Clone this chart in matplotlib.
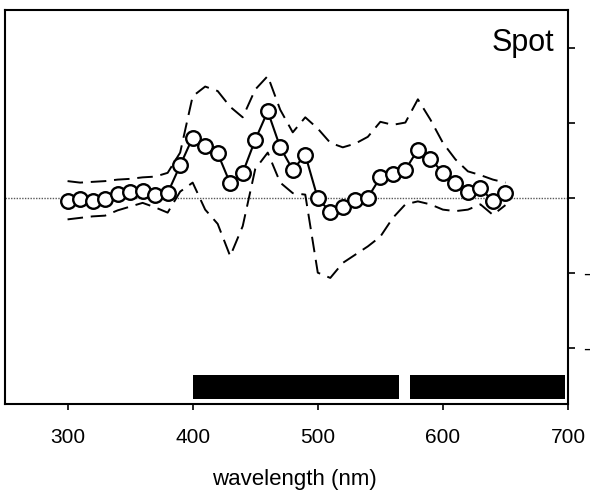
import matplotlib
matplotlib.use("Agg")
import matplotlib.pyplot as plt

plt.rcParams['font.family'] = ['Liberation Sans', 'DejaVu Sans']

wavelength = [300, 310, 320, 330, 340, 350, 360, 370, 380, 390,
              400, 410, 420, 430, 440, 450, 460, 470, 480, 490,
              500, 510, 520, 530, 540, 550, 560, 570, 580, 590,
              600, 610, 620, 630, 640, 650]
mean = [-0.04, -0.02, -0.05, -0.02, 0.05, 0.07, 0.09, 0.03, 0.06, 0.43,
        0.80, 0.69, 0.59, 0.19, 0.33, 0.77, 1.15, 0.67, 0.37, 0.57,
        -0.01, -0.19, -0.12, -0.03, 0.00, 0.27, 0.31, 0.37, 0.64, 0.52,
        0.33, 0.19, 0.07, 0.13, -0.05, 0.06]
upper = [0.22, 0.20, 0.21, 0.22, 0.24, 0.25, 0.27, 0.28, 0.33, 0.60,
         1.35, 1.48, 1.42, 1.21, 1.07, 1.44, 1.62, 1.17, 0.87, 1.07,
         0.92, 0.73, 0.67, 0.72, 0.81, 1.01, 0.97, 1.00, 1.31, 1.04,
         0.73, 0.51, 0.35, 0.30, 0.24, 0.20]
lower = [-0.29, -0.27, -0.25, -0.24, -0.17, -0.12, -0.07, -0.13, -0.20, 0.08,
         0.20, -0.16, -0.35, -0.78, -0.38, 0.38, 0.60, 0.20, 0.06, 0.04,
         -1.00, -1.07, -0.87, -0.76, -0.65, -0.52, -0.27, -0.09, -0.05, -0.09,
         -0.16, -0.18, -0.16, -0.09, -0.23, -0.10]

band_start = [400, 574]
band_end = [565, 698]
band_bottom = -2.68
band_top = -2.36

x_ticks = [300, 400, 500, 600, 700]
y_ticks = [-2, -1, 0, 1, 2]
y_ticklabels = ['-', '-', '', '', '']

fig = plt.figure(figsize=(5.9, 4.92), dpi=100)
ax = fig.add_axes([5/590, 1-404/492, 563/590, 394/492])

ax.axhline(0, color='0.35', lw=1.0, ls=(0, (1, 1)), zorder=1)
ax.plot(wavelength, upper, color='black', lw=1.4, ls=(0, (8, 4)), zorder=2)
ax.plot(wavelength, lower, color='black', lw=1.4, ls=(0, (8, 4)), zorder=2)
ax.plot(wavelength, mean, color='black', lw=1.5, marker='o', ms=10.5,
        mfc='white', mec='black', mew=1.7, zorder=3)

for s, e in zip(band_start, band_end):
    ax.fill_between([s, e], band_bottom, band_top, color='black', lw=0, zorder=2)

ax.set_xlim(250, 700)
ax.set_ylim(-2.75, 2.5)

ax.set_xticks(x_ticks)
ax.tick_params(axis='x', direction='out', length=4, width=1.2, pad=13, labelsize=15)
ax.yaxis.tick_right()
ax.set_yticks(y_ticks)
ax.set_yticklabels(y_ticklabels)
ax.tick_params(axis='y', direction='out', length=5, width=1.2, pad=6, labelsize=15)

for sp in ax.spines.values():
    sp.set_linewidth(1.5)

ax.text(0.975, 0.955, 'Spot', transform=ax.transAxes, ha='right', va='top', fontsize=22)
fig.text(294/590, 1-480/492, 'wavelength (nm)', ha='center', va='center', fontsize=16)

fig.savefig('out.png', dpi=100)
